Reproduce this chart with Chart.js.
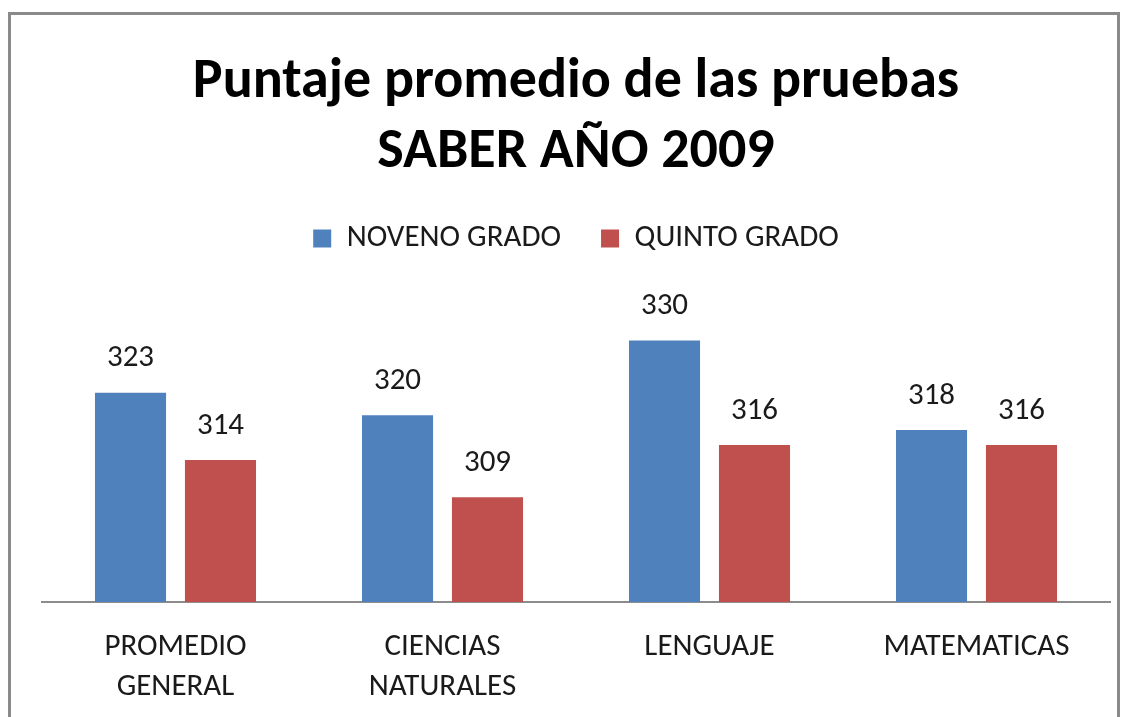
<!DOCTYPE html>
<html>
<head>
<meta charset="utf-8">
<script src="https://cdn.jsdelivr.net/npm/chart.js@4.4.0/dist/chart.umd.min.js"></script>
<style>
  body { margin: 0; background: #fff; width: 1127px; height: 717px; overflow: hidden; }
  #frame { position: absolute; left: 8px; top: 12px; width: 1106px; height: 740px;
           border: 3px solid #8a8a8a; border-bottom: none; }
  #myChart { display: block; }
</style>
</head>
<body>
<div id="frame">
  <canvas id="myChart" width="1106" height="721"></canvas>
</div>
<script>
// datos del grafico
var categorias = [['PROMEDIO', 'GENERAL'], ['CIENCIAS', 'NATURALES'], 'LENGUAJE', 'MATEMATICAS'];
var noveno = [323, 320, 330, 318];
var quinto = [314, 309, 316, 316];
var series = ['NOVENO GRADO', 'QUINTO GRADO'];

var fuente = "Carlito, Lato, 'Open Sans', sans-serif";

// etiquetas de valor encima de cada barra
var etiquetas = {
    id: 'etiquetas',
    afterDatasetsDraw: function(chart) {
        var ctx = chart.ctx;
        ctx.save();
        ctx.font = '31px ' + fuente;
        ctx.fillStyle = '#1a1a1a';
        ctx.textAlign = 'center';
        ctx.textBaseline = 'middle';
        chart.data.datasets.forEach(function(ds, i) {
            chart.getDatasetMeta(i).data.forEach(function(bar, j) {
                ctx.fillText(ds.data[j], bar.x, bar.y - 34);
            });
        });
        ctx.restore();
    }
};

// espacio extra debajo de la leyenda
var espacioLeyenda = {
    id: 'espacioLeyenda',
    beforeInit: function(chart) {
        var fitOrig = chart.legend.fit;
        chart.legend.fit = function() {
            fitOrig.bind(chart.legend)();
            this.height += 39;
        };
    }
};

var ctx = document.getElementById('myChart').getContext('2d');
var grafico = new Chart(ctx, {
    type: 'bar',
    data: {
        labels: categorias,
        datasets: [{
            label: series[0],
            backgroundColor: '#4F81BD',
            data: noveno
        }, {
            label: series[1],
            backgroundColor: '#C0504D',
            data: quinto
        }]
    },
    options: {
        responsive: false,
        animation: false,
        categoryPercentage: 0.674,
        barPercentage: 0.79,
        layout: { padding: { left: 31, right: 7, top: 0, bottom: 12 } },
        plugins: {
            title: {
                display: true,
                text: ['Puntaje promedio de las pruebas', 'SABER AÑO 2009'],
                color: '#000',
                font: { family: fuente, size: 56, weight: 'bold', lineHeight: 70 / 56 },
                padding: { top: 33, bottom: -5 }
            },
            legend: {
                labels: {
                    color: '#1a1a1a',
                    font: { family: fuente, size: 31 },
                    boxWidth: 18,
                    boxHeight: 18,
                    padding: 40
                }
            },
            tooltip: { enabled: false }
        },
        scales: {
            x: {
                grid: { display: false },
                border: { display: true, color: '#8c8c8c', width: 2 },
                ticks: {
                    color: '#1a1a1a',
                    padding: 17,
                    font: { family: fuente, size: 31, lineHeight: 40 / 31 }
                }
            },
            y: {
                display: false,
                min: 295,
                max: 335
            }
        }
    },
    plugins: [etiquetas, espacioLeyenda]
});
</script>
</body>
</html>
